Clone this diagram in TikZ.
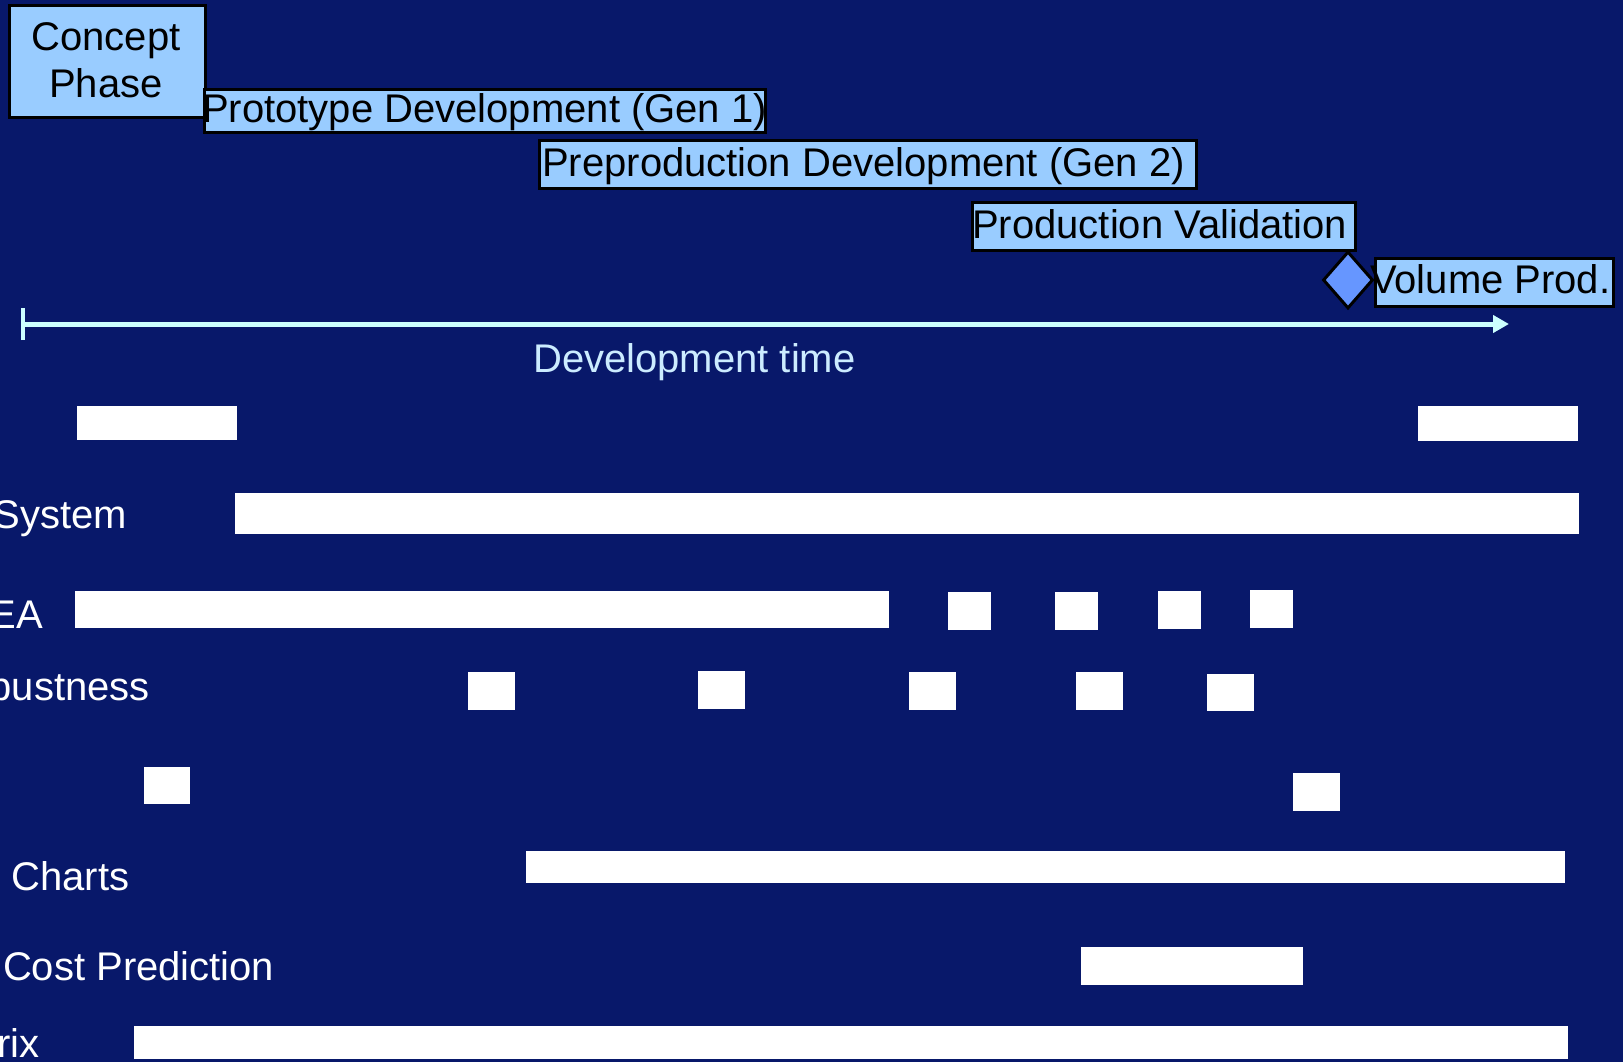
\documentclass[tikz,border=0pt]{standalone}
\usepackage{fontspec}
\setmainfont{Liberation Sans}
\usetikzlibrary{arrows.meta,shapes.geometric}

\definecolor{navy}{RGB}{8,24,106}
\definecolor{phasefill}{RGB}{153,204,255}
\definecolor{milefill}{RGB}{102,150,255}
\definecolor{axiscol}{RGB}{204,255,255}
\definecolor{axistext}{RGB}{204,236,255}

% white activity bar: name, left, top, right, bottom (pixel units)
\newcommand{\taskbar}[5]{%
  \node[task, minimum width={(#4)-(#2)}, minimum height={(#5)-(#3)}] (#1) at (#2,#3) {};}

\begin{document}
\begin{tikzpicture}[x=1pt, y=-1pt,
  bigfont/.style={font=\fontsize{40pt}{47pt}\selectfont},
  phase/.style={draw=black, line width=3pt, fill=phasefill, anchor=north west, inner sep=0pt},
  phasetext/.style={bigfont, anchor=base west, inner sep=0pt, text=black},
  task/.style={fill=white, draw=none, anchor=north west, inner sep=0pt},
  rowlabel/.style={bigfont, anchor=base east, inner sep=0pt, text=white},
  axisline/.style={draw=axiscol, line width=5pt, {Bar[width=32pt,line width=4pt]}-{Triangle[length=16pt,width=17pt]}},
]
\useasboundingbox (0,0) rectangle (1623,1062);
\fill[navy] (0,0) rectangle (1623,1062);
\clip (0,0) rectangle (1623,1062);

% ---- phases ----
\node[phase, minimum width=196pt, minimum height=112pt] (concept) at (8,4) {};
\node[bigfont, align=center, inner sep=0pt, text=black] (concepttxt) at (106,60) {Concept\\[-0.5pt]Phase};

\node[phase, minimum width=561pt, minimum height=43pt] (proto) at (203,88) {};
\node[phasetext] (prototxt) at (202,123) {Prototype Development (Gen 1)};

\node[phase, minimum width=657pt, minimum height=48pt] (preprod) at (538,139) {};
\node[phasetext] (preprodtxt) at (542,177) {Preproduction Development (Gen 2)};

\node[phase, minimum width=383pt, minimum height=48pt] (pv) at (971,201) {};
\node[phasetext] (pvtxt) at (972,238) {Production Validation};

\node[phase, minimum width=238pt, minimum height=48pt] (volume) at (1374,257) {};
\node[draw=black, line width=3pt, fill=milefill, shape=diamond, inner sep=0pt,
      minimum width=50pt, minimum height=57pt] (sop) at (1348,280) {};
\node[phasetext] (volumetxt) at (1370,293) {Volume Prod.};

% ---- time axis ----
\coordinate (t0) at (21,324);
\coordinate (t1) at (1509,324);
\draw[axisline] (t0) -- (t1);
\node[bigfont, anchor=base west, inner sep=0pt, text=axistext] (devtime) at (533,372) {Development time};

% ---- activity rows ----
\taskbar{r1a}{77}{406}{237}{440}
\taskbar{r1b}{1418}{406}{1578}{441}

\node[rowlabel] (lsys) at (127.5,528) {System};
\taskbar{r2}{235}{493}{1579}{534}

\node[rowlabel] (lfea) at (43,628) {EA};
\taskbar{r3a}{75}{591}{889}{628}
\taskbar{r3b}{948}{592}{991}{630}
\taskbar{r3c}{1055}{592}{1098}{630}
\taskbar{r3d}{1158}{591}{1201}{629}
\taskbar{r3e}{1250}{590}{1293}{628}

\node[rowlabel] (lrob) at (150,700) {bustness};
\taskbar{r4a}{468}{672}{515}{710}
\taskbar{r4b}{698}{671}{745}{709}
\taskbar{r4c}{909}{672}{956}{710}
\taskbar{r4d}{1076}{672}{1123}{710}
\taskbar{r4e}{1207}{674}{1254}{711}

\taskbar{r5a}{144}{767}{190}{804}
\taskbar{r5b}{1293}{773}{1340}{811}

\node[rowlabel] (lcharts) at (129.5,890) {Charts};
\taskbar{r6}{526}{851}{1565}{883}

\node[rowlabel] (lcost) at (274.5,980) {Cost Prediction};
\taskbar{r7}{1081}{947}{1303}{985}

\node[rowlabel] (lmatrix) at (40,1057) {rix};
\taskbar{r8}{134}{1026}{1568}{1059}
\end{tikzpicture}
\end{document}
